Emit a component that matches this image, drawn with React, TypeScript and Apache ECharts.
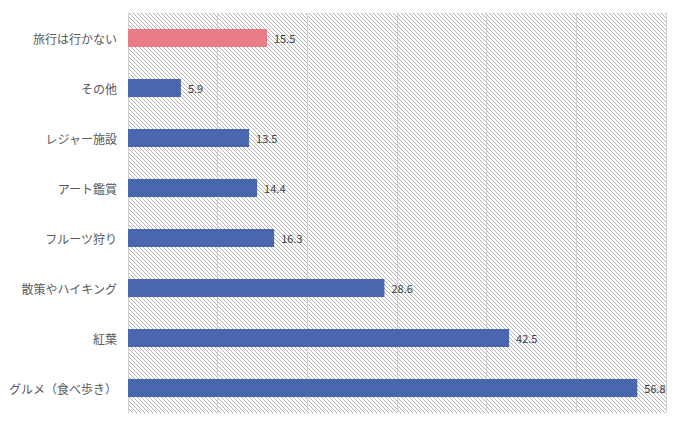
import React, { useEffect, useRef } from "react";
import * as echarts from "echarts";

const categories = [
  "旅行は行かない",
  "その他",
  "レジャー施設",
  "アート鑑賞",
  "フルーツ狩り",
  "散策やハイキング",
  "紅葉",
  "グルメ（食べ歩き）",
];
const values = [15.5, 5.9, 13.5, 14.4, 16.3, 28.6, 42.5, 56.8];
const highlightIndex = 0;

function makeHatch(): string {
  const c = document.createElement("canvas");
  c.width = 4;
  c.height = 4;
  const ctx = c.getContext("2d")!;
  ctx.fillStyle = "#ffffff";
  ctx.fillRect(0, 0, 4, 4);
  ctx.fillStyle = "#b4b4b4";
  for (let i = 0; i < 4; i++) ctx.fillRect(i, i, 1, 1);
  return c.toDataURL();
}

export default function App() {
  const ref = useRef<HTMLDivElement>(null);
  useEffect(() => {
    const chart = echarts.init(ref.current!, null, { renderer: "svg" });
    const font = "'Noto Sans CJK JP', 'Noto Sans', sans-serif";
    chart.setOption({
      animation: false,
      grid: {
        left: 128,
        top: 13,
        right: 17,
        bottom: 10,
        show: true,
        borderWidth: 0,
        backgroundColor: { image: makeHatch(), repeat: "repeat" },
      },
      xAxis: {
        type: "value",
        min: 0,
        max: 60,
        interval: 10,
        axisLabel: { show: false },
        axisLine: { show: false },
        axisTick: { show: false },
        splitLine: { lineStyle: { color: "#d0d0d0", width: 1 } },
      },
      yAxis: {
        type: "category",
        data: categories,
        inverse: true,
        axisLine: { show: false },
        axisTick: { show: false },
        axisLabel: { color: "#595959", fontSize: 12, fontFamily: font, margin: 11 },
      },
      series: [
        {
          type: "bar",
          barWidth: 18,
          data: values.map((v, i) =>
            i === highlightIndex ? { value: v, itemStyle: { color: "#e97d87" } } : v
          ),
          itemStyle: { color: "#4a66ac" },
          label: {
            show: true,
            position: "right",
            distance: 7,
            color: "#404040",
            fontSize: 11,
            fontFamily: font,
          },
        },
      ],
    });
    return () => chart.dispose();
  }, []);
  return (
    <div
      ref={ref}
      style={{ position: "fixed", left: 0, top: 0, width: 683, height: 423, background: "#fff" }}
    />
  );
}
